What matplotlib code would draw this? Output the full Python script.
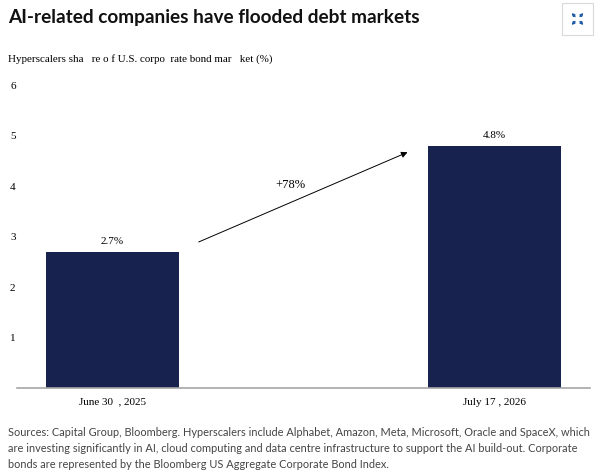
import matplotlib.pyplot as plt
from matplotlib.patches import Rectangle, FancyArrowPatch

# data
dates = ['June 30  , 2025', 'July 17 , 2026']
share = [2.7, 4.8]
share_labels = ['2.7%', '4.8%']
change_label = '+78%'
yticks = [1, 2, 3, 4, 5, 6]

navy = '#18224f'
serif = 'Liberation Serif'

fig = plt.figure(figsize=(6.01, 4.72), dpi=100)
W, H = 601, 472

ax = fig.add_axes([17 / W, 1 - 388 / H, (590 - 17) / W, (388 - 85) / H])
x = [0, 1]
ax.bar(x, share, width=0.348, color=navy, zorder=2)
ax.set_xlim(-0.25, 1.25)
ax.set_ylim(0, 6)

for s in ['top', 'right', 'left']:
    ax.spines[s].set_visible(False)
ax.spines['bottom'].set_color('#a6a6a6')
ax.spines['bottom'].set_linewidth(1.2)

ax.set_yticks(yticks)
ax.set_yticklabels([str(t) for t in yticks], fontfamily=serif, fontsize=8)
ax.set_xticks(x)
ax.set_xticklabels(dates, fontfamily=serif, fontsize=8)
ax.tick_params(axis='x', length=0, pad=7)
for lab in ax.get_yticklabels():
    lab.set_horizontalalignment('left')
ax.tick_params(axis='y', length=0, pad=5)

for xi, v, lab in zip(x, share, share_labels):
    ax.annotate(lab, (xi, v), xytext=(0, 4), textcoords='offset points',
                ha='center', va='bottom', fontfamily=serif, fontsize=8)

arrow = FancyArrowPatch((0.219, 2.87), (0.779, 4.69), arrowstyle='-|>',
                        mutation_scale=9, color='black', linewidth=0.7)
ax.add_patch(arrow)
ax.text(0.467, 4.02, change_label, ha='center', va='center',
        fontfamily=serif, fontsize=9)

# title, subtitle, footnote
fig.text(8 / W, 1 - 17 / H, 'AI-related companies have flooded debt markets',
         fontfamily='Lato', fontweight='bold', fontsize=13.7,
         va='center', ha='left', color='#111111')
fig.text(8 / W, 1 - 59 / H, 'Hyperscalers sha   re o f U.S. corpo  rate bond mar   ket (%)',
         fontfamily=serif, fontsize=7.9, va='center', ha='left')

notes = ['Sources: Capital Group, Bloomberg. Hyperscalers include Alphabet, Amazon, Meta, Microsoft, Oracle and SpaceX, which',
         'are investing significantly in AI, cloud computing and data centre infrastructure to support the AI build-out. Corporate',
         'bonds are represented by the Bloomberg US Aggregate Corporate Bond Index.']
for i, line in enumerate(notes):
    fig.text(8 / W, 1 - (433 + 15.5 * i) / H, line, fontfamily='Lato',
             fontsize=7.9, color='#444444', va='center', ha='left')

# expand icon box top right
fig.patches.append(Rectangle((562 / W, 1 - 35 / H), 31 / W, 32 / H,
                             transform=fig.transFigure, fill=False,
                             edgecolor='#d9d9d9', linewidth=0.8))
cx, cy = 577.5, 19
for dx, dy in [(-1, -1), (1, -1), (-1, 1), (1, 1)]:
    start = ((cx + 2.5 * dx) / W, 1 - (cy + 2.5 * dy) / H)
    end = ((cx + 6 * dx) / W, 1 - (cy + 6 * dy) / H)
    fig.patches.append(FancyArrowPatch(start, end, transform=fig.transFigure,
                                       arrowstyle='-|>', mutation_scale=4,
                                       shrinkA=0, shrinkB=0,
                                       color='#1f5aa6', linewidth=1.0))

fig.savefig('out.png', dpi=100)
